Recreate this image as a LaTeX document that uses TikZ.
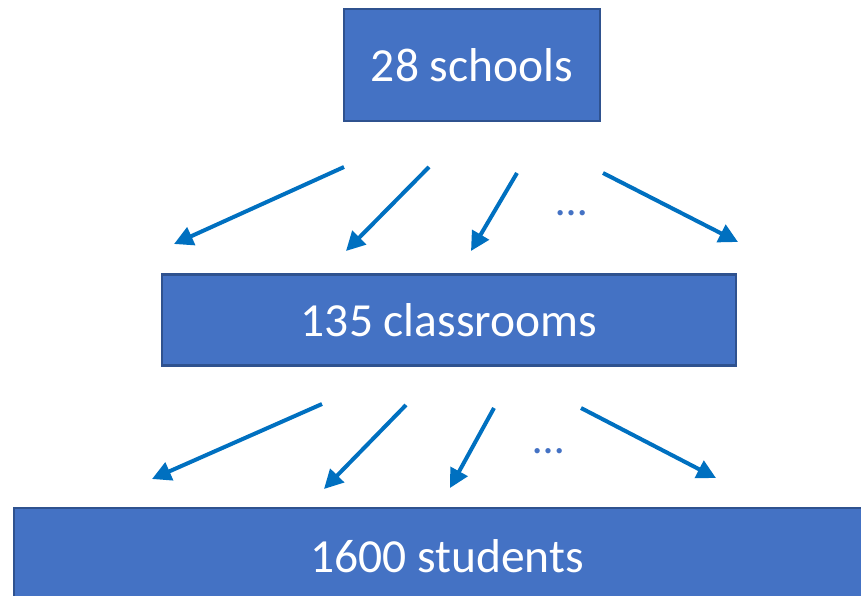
\documentclass[tikz,border=0pt]{standalone}
\usepackage{fontspec}
\setmainfont{Carlito}
\usetikzlibrary{arrows.meta}
\definecolor{boxfill}{HTML}{4472C4}
\definecolor{boxline}{HTML}{2F528F}
\definecolor{arrowblue}{HTML}{0070C0}
\begin{document}
\begin{tikzpicture}[x=1pt,y=-1pt,
  level/.style={rectangle, fill=boxfill, draw=boxline, line width=2.2pt,
    text=white, inner sep=0pt,
    font=\fontsize{47.5}{50}\selectfont},
  link/.style={draw=arrowblue, line width=4pt,
    -{Triangle[length=19pt,width=19pt]}},
  more/.style={text=boxfill, inner sep=0pt,
    font=\fontsize{44}{46}\selectfont}]
\useasboundingbox (0,0) rectangle (861,596);
\clip (0,0) rectangle (861,596);

% the three levels of the hierarchy
\node[level, minimum width=256pt, minimum height=112pt] (schools) at (472,65) {28 schools};
\node[level, minimum width=574pt, minimum height=91pt] (classes) at (449,320) {135 classrooms};
\node[level, minimum width=866pt, minimum height=96pt] (students) at (447,556) {1600 students};

% arrows: schools -> classrooms
\coordinate (a1s) at (344,167); \coordinate (a1e) at (174,244);
\coordinate (a2s) at (429,167); \coordinate (a2e) at (346,251);
\coordinate (a3s) at (517,173); \coordinate (a3e) at (471,251);
\coordinate (a4s) at (603,173); \coordinate (a4e) at (738,242);
\draw[link] (a1s) -- (a1e);
\draw[link] (a2s) -- (a2e);
\draw[link] (a3s) -- (a3e);
\draw[link] (a4s) -- (a4e);
\node[more] (dotsA) at (572,213) {…};

% arrows: classrooms -> students
\coordinate (b1s) at (322,404); \coordinate (b1e) at (152,479);
\coordinate (b2s) at (406,405); \coordinate (b2e) at (324,489);
\coordinate (b3s) at (494,408); \coordinate (b3e) at (450,488);
\coordinate (b4s) at (581,408); \coordinate (b4e) at (716,478);
\draw[link] (b1s) -- (b1e);
\draw[link] (b2s) -- (b2e);
\draw[link] (b3s) -- (b3e);
\draw[link] (b4s) -- (b4e);
\node[more] (dotsB) at (549,451) {…};
\end{tikzpicture}
\end{document}
